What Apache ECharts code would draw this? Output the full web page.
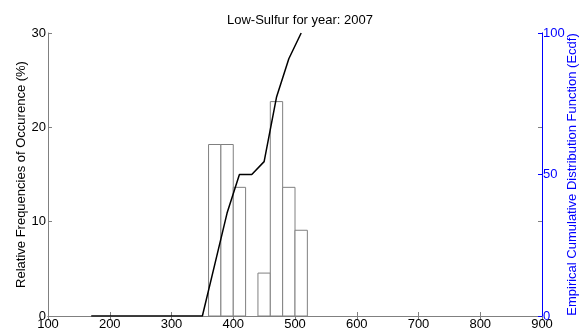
<!DOCTYPE html>
<html>
<head>
<meta charset="utf-8">
<script src="https://cdn.jsdelivr.net/npm/echarts@6/dist/echarts.min.js"></script>
<style>
  html, body { margin: 0; padding: 0; background: #fff; }
  #chart { width: 588px; height: 331px; }
</style>
</head>
<body>
<div id="chart"></div>
<script>
// histogram bins (left edge, right edge) and relative frequency in %
var binLeft = [360, 380, 400, 420, 440, 460, 480, 500];
var binRight = [380, 400, 420, 440, 460, 480, 500, 520];
var relFreq = [18.18, 18.18, 13.64, 0, 4.55, 22.73, 13.64, 9.09];

// ecdf points (bin centres) in %
var ecdfX = [170, 190, 210, 230, 250, 270, 290, 310, 330, 350, 370, 390, 410, 430, 450, 470, 490, 510];
var ecdfY = [0, 0, 0, 0, 0, 0, 0, 0, 0, 0, 18.18, 36.36, 50, 50, 54.55, 77.27, 90.91, 100];

var titleText = "Low-Sulfur for year: 2007";
var leftName = "Relative Frequencies of Occurence (%)";
var rightName = "Empirical Cumulative Distribution Function (Ecdf)";

var font = "Liberation Sans, Arial, sans-serif";
var fs = 13;
var gray = "#808080";
var blue = "#0000ff";

var bars = binLeft.map(function (x, i) {
  return [x, binRight[i], relFreq[i]];
});
var ecdf = ecdfX.map(function (x, i) {
  return [x, ecdfY[i]];
});

var myChart = echarts.init(document.getElementById("chart"));
myChart.setOption({
  animation: false,
  backgroundColor: "#fff",
  title: {
    text: titleText,
    left: 295,
    top: 9,
    textAlign: "center",
    textStyle: { fontFamily: font, fontSize: fs, fontWeight: "normal", color: "#000" },
  },
  grid: { left: 48, right: 46, top: 33, bottom: 15 },
  xAxis: [
    {
      type: "value",
      min: 100,
      max: 900,
      interval: 100,
      axisLine: { show: true, lineStyle: { color: gray } },
      axisTick: { show: true, inside: true, length: 4, lineStyle: { color: gray } },
      axisLabel: { color: "#000", fontFamily: font, fontSize: fs, margin: 2 },
      splitLine: { show: false },
    },
    {
      // mirrored box on top
      type: "value",
      position: "top",
      min: 100,
      max: 900,
      interval: 100,
      axisLine: { show: true, lineStyle: { color: gray } },
      axisTick: { show: true, inside: true, length: 4, lineStyle: { color: gray } },
      axisLabel: { show: false },
      splitLine: { show: false },
    },
  ],
  yAxis: [
    {
      type: "value",
      position: "left",
      min: 0,
      max: 30,
      interval: 10,
      name: leftName,
      nameLocation: "middle",
      nameGap: 20,
      nameMoveOverlap: false,
      nameTextStyle: { color: "#000", fontFamily: font, fontSize: fs },
      axisLine: { show: true, lineStyle: { color: gray } },
      axisTick: { show: true, inside: true, length: 4, lineStyle: { color: gray } },
      axisLabel: { color: "#000", fontFamily: font, fontSize: fs, margin: 2 },
      splitLine: { show: false },
    },
    {
      // mirrored left ticks on the right side
      type: "value",
      position: "right",
      min: 0,
      max: 30,
      interval: 10,
      axisLine: { show: true, lineStyle: { color: gray } },
      axisTick: { show: true, inside: true, length: 4, lineStyle: { color: gray } },
      axisLabel: { show: false },
      splitLine: { show: false },
    },
    {
      type: "value",
      position: "right",
      min: 0,
      max: 100,
      interval: 50,
      z: 5,
      name: rightName,
      nameLocation: "middle",
      nameGap: 24,
      nameMoveOverlap: false,
      nameTextStyle: { color: blue, fontFamily: font, fontSize: fs },
      axisLine: { show: true, lineStyle: { color: blue } },
      axisTick: { show: true, inside: true, length: 4, lineStyle: { color: blue } },
      axisLabel: { color: blue, fontFamily: font, fontSize: fs, margin: 1 },
      splitLine: { show: false },
    },
  ],
  series: [
    {
      type: "custom",
      xAxisIndex: 0,
      yAxisIndex: 0,
      data: bars,
      encode: { x: [0, 1], y: 2 },
      renderItem: function (params, api) {
        var p0 = api.coord([api.value(0), 0]);
        var p1 = api.coord([api.value(1), api.value(2)]);
        if (api.value(2) <= 0) return;
        return {
          type: "rect",
          shape: { x: p0[0], y: p1[1], width: p1[0] - p0[0], height: p0[1] - p1[1] },
          style: { fill: "#fff", stroke: gray, lineWidth: 1 },
        };
      },
    },
    {
      type: "line",
      xAxisIndex: 0,
      yAxisIndex: 2,
      data: ecdf,
      symbol: "none",
      lineStyle: { color: "#000", width: 1.5 },
      z: 3,
    },
  ],
});
</script>
</body>
</html>
